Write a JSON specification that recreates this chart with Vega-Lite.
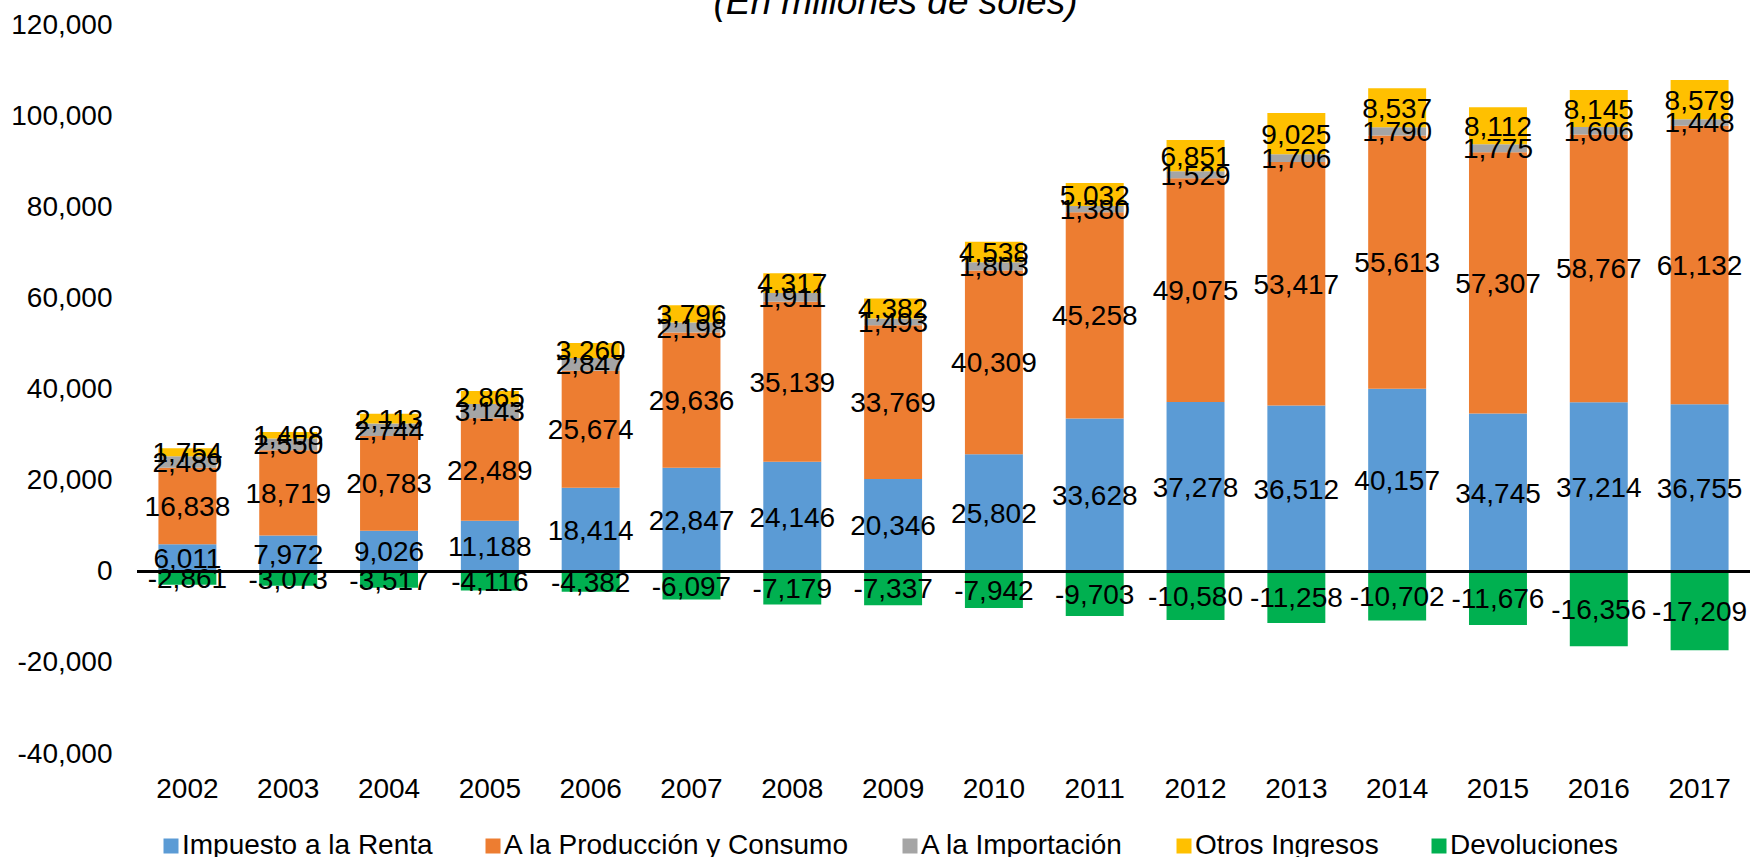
{
  "$schema": "https://vega.github.io/schema/vega-lite/v6.json",
  "autosize": {"type": "none"},
  "width": 1613,
  "height": 729,
  "padding": {"left": 137, "top": 25, "right": 0, "bottom": 103},
  "background": "white",
  "title": {
    "text": "(En millones de soles)",
    "fontStyle": "italic",
    "fontWeight": "normal",
    "fontSize": 37,
    "font": "Liberation Sans",
    "color": "#000000",
    "anchor": "middle",
    "frame": "group",
    "baseline": "alphabetic",
    "offset": -40,
    "dx": -48
  },
  "data": {
    "values": [
      {"year": "2002", "serie": "Impuesto a la Renta", "ord": 1, "value": 6011},
      {"year": "2002", "serie": "A la Producción y Consumo", "ord": 2, "value": 16838},
      {"year": "2002", "serie": "A la Importación", "ord": 3, "value": 2489},
      {"year": "2002", "serie": "Otros Ingresos", "ord": 4, "value": 1754},
      {"year": "2002", "serie": "Devoluciones", "ord": 5, "value": -2861},
      {"year": "2003", "serie": "Impuesto a la Renta", "ord": 1, "value": 7972},
      {"year": "2003", "serie": "A la Producción y Consumo", "ord": 2, "value": 18719},
      {"year": "2003", "serie": "A la Importación", "ord": 3, "value": 2550},
      {"year": "2003", "serie": "Otros Ingresos", "ord": 4, "value": 1408},
      {"year": "2003", "serie": "Devoluciones", "ord": 5, "value": -3073},
      {"year": "2004", "serie": "Impuesto a la Renta", "ord": 1, "value": 9026},
      {"year": "2004", "serie": "A la Producción y Consumo", "ord": 2, "value": 20783},
      {"year": "2004", "serie": "A la Importación", "ord": 3, "value": 2744},
      {"year": "2004", "serie": "Otros Ingresos", "ord": 4, "value": 2113},
      {"year": "2004", "serie": "Devoluciones", "ord": 5, "value": -3517},
      {"year": "2005", "serie": "Impuesto a la Renta", "ord": 1, "value": 11188},
      {"year": "2005", "serie": "A la Producción y Consumo", "ord": 2, "value": 22489},
      {"year": "2005", "serie": "A la Importación", "ord": 3, "value": 3143},
      {"year": "2005", "serie": "Otros Ingresos", "ord": 4, "value": 2865},
      {"year": "2005", "serie": "Devoluciones", "ord": 5, "value": -4116},
      {"year": "2006", "serie": "Impuesto a la Renta", "ord": 1, "value": 18414},
      {"year": "2006", "serie": "A la Producción y Consumo", "ord": 2, "value": 25674},
      {"year": "2006", "serie": "A la Importación", "ord": 3, "value": 2847},
      {"year": "2006", "serie": "Otros Ingresos", "ord": 4, "value": 3260},
      {"year": "2006", "serie": "Devoluciones", "ord": 5, "value": -4382},
      {"year": "2007", "serie": "Impuesto a la Renta", "ord": 1, "value": 22847},
      {"year": "2007", "serie": "A la Producción y Consumo", "ord": 2, "value": 29636},
      {"year": "2007", "serie": "A la Importación", "ord": 3, "value": 2198},
      {"year": "2007", "serie": "Otros Ingresos", "ord": 4, "value": 3796},
      {"year": "2007", "serie": "Devoluciones", "ord": 5, "value": -6097},
      {"year": "2008", "serie": "Impuesto a la Renta", "ord": 1, "value": 24146},
      {"year": "2008", "serie": "A la Producción y Consumo", "ord": 2, "value": 35139},
      {"year": "2008", "serie": "A la Importación", "ord": 3, "value": 1911},
      {"year": "2008", "serie": "Otros Ingresos", "ord": 4, "value": 4317},
      {"year": "2008", "serie": "Devoluciones", "ord": 5, "value": -7179},
      {"year": "2009", "serie": "Impuesto a la Renta", "ord": 1, "value": 20346},
      {"year": "2009", "serie": "A la Producción y Consumo", "ord": 2, "value": 33769},
      {"year": "2009", "serie": "A la Importación", "ord": 3, "value": 1493},
      {"year": "2009", "serie": "Otros Ingresos", "ord": 4, "value": 4382},
      {"year": "2009", "serie": "Devoluciones", "ord": 5, "value": -7337},
      {"year": "2010", "serie": "Impuesto a la Renta", "ord": 1, "value": 25802},
      {"year": "2010", "serie": "A la Producción y Consumo", "ord": 2, "value": 40309},
      {"year": "2010", "serie": "A la Importación", "ord": 3, "value": 1803},
      {"year": "2010", "serie": "Otros Ingresos", "ord": 4, "value": 4538},
      {"year": "2010", "serie": "Devoluciones", "ord": 5, "value": -7942},
      {"year": "2011", "serie": "Impuesto a la Renta", "ord": 1, "value": 33628},
      {"year": "2011", "serie": "A la Producción y Consumo", "ord": 2, "value": 45258},
      {"year": "2011", "serie": "A la Importación", "ord": 3, "value": 1380},
      {"year": "2011", "serie": "Otros Ingresos", "ord": 4, "value": 5032},
      {"year": "2011", "serie": "Devoluciones", "ord": 5, "value": -9703},
      {"year": "2012", "serie": "Impuesto a la Renta", "ord": 1, "value": 37278},
      {"year": "2012", "serie": "A la Producción y Consumo", "ord": 2, "value": 49075},
      {"year": "2012", "serie": "A la Importación", "ord": 3, "value": 1529},
      {"year": "2012", "serie": "Otros Ingresos", "ord": 4, "value": 6851},
      {"year": "2012", "serie": "Devoluciones", "ord": 5, "value": -10580},
      {"year": "2013", "serie": "Impuesto a la Renta", "ord": 1, "value": 36512},
      {"year": "2013", "serie": "A la Producción y Consumo", "ord": 2, "value": 53417},
      {"year": "2013", "serie": "A la Importación", "ord": 3, "value": 1706},
      {"year": "2013", "serie": "Otros Ingresos", "ord": 4, "value": 9025},
      {"year": "2013", "serie": "Devoluciones", "ord": 5, "value": -11258},
      {"year": "2014", "serie": "Impuesto a la Renta", "ord": 1, "value": 40157},
      {"year": "2014", "serie": "A la Producción y Consumo", "ord": 2, "value": 55613},
      {"year": "2014", "serie": "A la Importación", "ord": 3, "value": 1790},
      {"year": "2014", "serie": "Otros Ingresos", "ord": 4, "value": 8537},
      {"year": "2014", "serie": "Devoluciones", "ord": 5, "value": -10702},
      {"year": "2015", "serie": "Impuesto a la Renta", "ord": 1, "value": 34745},
      {"year": "2015", "serie": "A la Producción y Consumo", "ord": 2, "value": 57307},
      {"year": "2015", "serie": "A la Importación", "ord": 3, "value": 1775},
      {"year": "2015", "serie": "Otros Ingresos", "ord": 4, "value": 8112},
      {"year": "2015", "serie": "Devoluciones", "ord": 5, "value": -11676},
      {"year": "2016", "serie": "Impuesto a la Renta", "ord": 1, "value": 37214},
      {"year": "2016", "serie": "A la Producción y Consumo", "ord": 2, "value": 58767},
      {"year": "2016", "serie": "A la Importación", "ord": 3, "value": 1606},
      {"year": "2016", "serie": "Otros Ingresos", "ord": 4, "value": 8145},
      {"year": "2016", "serie": "Devoluciones", "ord": 5, "value": -16356},
      {"year": "2017", "serie": "Impuesto a la Renta", "ord": 1, "value": 36755},
      {"year": "2017", "serie": "A la Producción y Consumo", "ord": 2, "value": 61132},
      {"year": "2017", "serie": "A la Importación", "ord": 3, "value": 1448},
      {"year": "2017", "serie": "Otros Ingresos", "ord": 4, "value": 8579},
      {"year": "2017", "serie": "Devoluciones", "ord": 5, "value": -17209}
    ]
  },
  "transform": [
    {"stack": "value", "groupby": ["year"], "sort": [{"field": "ord", "order": "ascending"}], "as": ["v0", "v1"]},
    {"calculate": "(datum.v0 + datum.v1) / 2", "as": "vmid"}
  ],
  "encoding": {
    "x": {
      "field": "year",
      "type": "nominal",
      "title": null,
      "scale": {"paddingInner": 0.425, "paddingOuter": 0.2125},
      "axis": {
        "orient": "bottom",
        "domain": false,
        "ticks": false,
        "labelAngle": 0,
        "labelFontSize": 28,
        "labelFont": "Liberation Sans",
        "labelColor": "#000000",
        "labelPadding": 21
      }
    }
  },
  "layer": [
    {
      "mark": {"type": "bar"},
      "encoding": {
        "y": {
          "field": "v0",
          "type": "quantitative",
          "title": null,
          "scale": {"domain": [-40000, 120000], "nice": false, "zero": false},
          "axis": {
            "values": [-40000, -20000, 0, 20000, 40000, 60000, 80000, 100000, 120000],
            "format": ",.0f",
            "domain": false,
            "ticks": false,
            "grid": false,
            "labelFontSize": 28,
            "labelFont": "Liberation Sans",
            "labelColor": "#000000",
            "labelPadding": 25
          }
        },
        "y2": {"field": "v1"},
        "color": {
          "field": "serie",
          "type": "nominal",
          "scale": {
            "domain": ["Impuesto a la Renta", "A la Producción y Consumo", "A la Importación", "Otros Ingresos", "Devoluciones"],
            "range": ["#5B9BD5", "#ED7D31", "#A5A5A5", "#FFC000", "#00B050"]
          },
          "legend": {
            "title": null,
            "orient": "none",
            "direction": "horizontal",
            "legendX": 20,
            "legendY": 807,
            "symbolType": "square",
            "symbolSize": 225,
            "symbolStrokeWidth": 0,
            "labelFontSize": 28,
            "labelFont": "Liberation Sans",
            "labelColor": "#000000",
            "labelOffset": -3,
            "columnPadding": 46,
            "labelLimit": 0
          }
        }
      }
    },
    {
      "mark": {"type": "rule", "color": "#000000", "strokeWidth": 2},
      "encoding": {"y": {"datum": 0, "type": "quantitative"}, "x": {"value": 0}, "x2": {"value": 1613}}
    },
    {
      "mark": {"type": "text", "fontSize": 28, "font": "Liberation Sans", "color": "#000000", "baseline": "middle", "align": "center", "dy": 2},
      "encoding": {
        "y": {"field": "vmid", "type": "quantitative"},
        "text": {"field": "value", "type": "quantitative", "format": ",.0f"}
      }
    }
  ],
  "config": {
    "view": {"stroke": null},
    "locale": {"number": {"decimal": ".", "thousands": ",", "grouping": [3], "currency": ["$", ""], "minus": "-"}}
  }
}
